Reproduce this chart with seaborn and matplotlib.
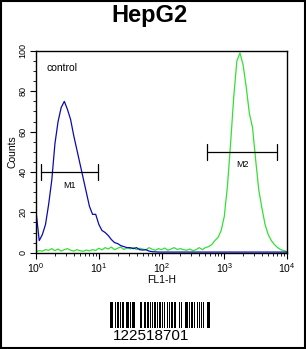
import numpy as np
import pandas as pd
import matplotlib
matplotlib.use('Agg')
import matplotlib.pyplot as plt
import matplotlib.ticker as mticker
from matplotlib.patches import Rectangle
import seaborn as sns

# log10 FL1-H channel grid (step 0.05 decades)
fl1_log = np.round(np.arange(0, 4.0001, 0.05), 2)

control_counts = [20, 6, 9, 14, 24, 36, 54, 65, 72, 75,
                  71, 66, 58, 51, 44, 37, 30, 23, 19, 19,
                  14, 11, 10, 8.5, 6.5, 5, 4.5, 3.5, 3, 2.5,
                  2.5, 2, 2.5, 1.5, 1.3, 1.5, 0.8, 0.5, 0.4, 0.3,
                  0.3, 0.3, 0.3, 0.3, 0.3, 0.3, 0.3, 0.3, 0.3, 0.3,
                  0.3, 0.3, 0.3, 0.3, 0.3, 0.3, 0.3, 0.3, 0.3, 0.3,
                  0.3, 0.3, 0.3, 0.3, 0.3, 0.3, 0.3, 0.3, 0.3, 0.3,
                  0.3, 0.3, 0.3, 0.3, 0.3, 0.3, 0.3, 0.3, 0.3, 0.3, 0.3]

sample_counts = [0.5, 1, 0.8, 1.5, 1.2, 2, 1, 1.8, 0.8, 1.5,
                 2, 1.2, 0.8, 1.5, 1, 0.7, 1.3, 0.9, 1.5, 1.1,
                 2.2, 1.4, 2.5, 1.8, 2.8, 1.5, 2.2, 2.8, 1.6, 2.4,
                 1.9, 2.6, 1.5, 2.2, 1.8, 1.4, 2.5, 1.7, 1.2, 2,
                 1.5, 2.3, 1.2, 1.8, 2.5, 1.6, 2, 1.5, 1.2, 1.8,
                 1, 1.5, 2.5, 1.5, 2.5, 3, 4, 6, 7.5, 11,
                 18, 33, 54, 77, 95, 99, 93, 82, 69, 62,
                 46, 31, 22, 14, 9, 6, 4, 2.5, 1.5, 1, 0.5]

# gates: (low, high, height)
m1_gate = (1.19, 9.6, 40)
m2_gate = (525, 7000, 50)

barcode_text = "122518701"
barcode_widths = [2, 1, 1, 2, 1, 1, 3, 1, 1, 2, 2, 1, 1, 1, 3, 2, 1, 1, 2, 1,
                  1, 3, 1, 2, 2, 1, 1, 1, 2, 1, 3, 1, 1, 2, 1, 1, 2, 2, 1, 1,
                  3, 1, 1, 1, 2, 2, 1, 2, 1, 1, 3, 1, 2, 1, 1, 2, 1, 1, 2, 3,
                  1, 1, 2, 1, 1, 2, 2, 1, 1, 3, 1, 1, 2, 1, 1, 1, 2, 3, 1, 1, 2]

df = pd.DataFrame({
    'fl1': np.concatenate([10 ** fl1_log, 10 ** fl1_log]),
    'counts': control_counts + sample_counts,
    'group': ['control'] * len(fl1_log) + ['HepG2'] * len(fl1_log),
})

sns.set_style('ticks')
plt.rcParams['font.family'] = ['Liberation Sans', 'DejaVu Sans']
plt.rcParams.update({'text.color': 'black', 'axes.labelcolor': 'black',
                     'xtick.color': 'black', 'ytick.color': 'black'})

fig = plt.figure(figsize=(3.06, 3.49), dpi=100)
fig.patches.append(Rectangle((0.003, 0.003), 0.994, 0.994, transform=fig.transFigure,
                             fill=False, edgecolor='black', linewidth=1.5))

ax = fig.add_axes([0.118, 0.276, 0.820, 0.578])
sns.lineplot(data=df, x='fl1', y='counts', hue='group',
             palette={'control': '#0a0ab4', 'HepG2': '#33e033'},
             hue_order=['HepG2', 'control'], linewidth=0.9, legend=False, ax=ax)

ax.set_xscale('log')
ax.set_xlim(1, 1e4)
ax.set_ylim(0, 100)
ax.yaxis.set_major_locator(mticker.MultipleLocator(20))
ax.yaxis.set_minor_locator(mticker.MultipleLocator(5))
ax.xaxis.set_minor_locator(mticker.LogLocator(base=10, subs=np.arange(2, 10)))
ax.xaxis.set_minor_formatter(mticker.NullFormatter())

for sp in ax.spines.values():
    sp.set_visible(True)
    sp.set_linewidth(1)
    sp.set_color('black')

ax.tick_params(axis='both', which='major', direction='out', length=4, width=0.8,
               labelsize=7.5, pad=2)
ax.tick_params(axis='both', which='minor', direction='out', length=2, width=0.6)
ax.tick_params(axis='y', labelrotation=90, labelsize=6.5)
for lab in ax.get_yticklabels():
    lab.set_va('center')

ax.set_xlabel('FL1-H', fontsize=7.5, labelpad=0)
ax.set_ylabel('Counts', fontsize=7.5, labelpad=1)

# gate markers
for (lo, hi, h), name in [(m1_gate, 'M1'), (m2_gate, 'M2')]:
    ax.plot([lo, hi], [h, h], color='black', linewidth=0.9)
    ax.plot([lo, lo], [h - 4, h + 4], color='black', linewidth=0.9)
    ax.plot([hi, hi], [h - 4, h + 4], color='black', linewidth=0.9)
    ax.text(np.sqrt(lo * hi), h - 6.5, name, fontsize=6.5, ha='center', va='center')

ax.text(1.45, 91.5, 'control', fontsize=7.5, ha='left', va='center')

fig.text(0.49, 0.955, 'HepG2', fontsize=17, fontweight='bold', ha='center', va='center')

# barcode
bax = fig.add_axes([110 / 306, 21 / 349, 100 / 306, 26 / 349])
edges = np.concatenate([[0], np.cumsum(barcode_widths)])
for i, w in enumerate(barcode_widths):
    if i % 2 == 0:
        bax.bar(edges[i], 1, width=w, align='edge', color='black', linewidth=0)
bax.set_xlim(0, edges[-1])
bax.set_ylim(0, 1)
bax.axis('off')
fig.text(0.493, 0.037, barcode_text, fontsize=11, ha='center', va='center')

fig.savefig('out.png', dpi=100)
